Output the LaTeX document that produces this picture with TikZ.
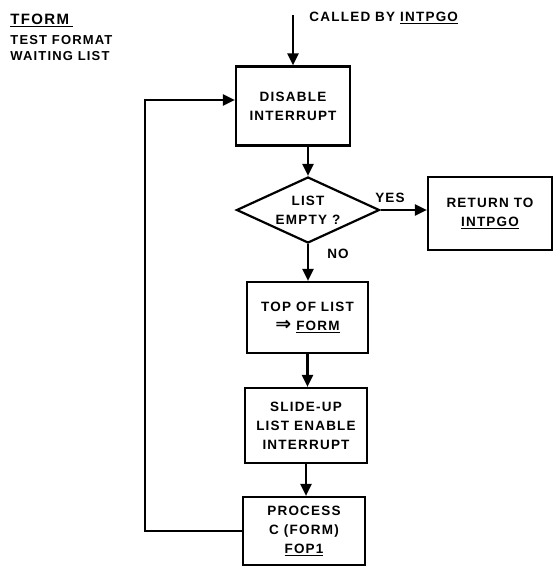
\documentclass[tikz,border=0pt]{standalone}
\usepackage{fontspec}
\setmainfont{Liberation Sans}[LetterSpace=9]
\newfontfamily\arrowfont{DejaVu Sans}
\usetikzlibrary{arrows.meta,shapes.geometric}

\begin{document}
\begin{tikzpicture}[x=1pt,y=-1pt,line width=2.2pt,>={Triangle[length=12pt,width=11pt]},
  lettering/.style={font=\bfseries\fontsize{13.5}{19}\selectfont},
  box/.style={draw,rectangle,lettering,align=center,inner sep=2pt},
  test/.style={draw,diamond,lettering,align=center,inner sep=0pt,aspect=2.2}]
\useasboundingbox (0,0) rectangle (554,573);
\node [lettering,anchor=north west,align=left,font=\bfseries\fontsize{13}{16}\selectfont] (title) at (6,10) {\underline{{\fontsize{15}{16}\selectfont TFORM}\,\,}\\[4pt]TEST FORMAT\\WAITING LIST};
\node [box,minimum width=114pt,minimum height=79pt] (disable) at (293,106) {DISABLE\\INTERRUPT};
\node [test,minimum width=143pt,minimum height=66pt] (empty) at (308,210) {LIST\\EMPTY ?};
\node [box,minimum width=124pt,minimum height=73pt] (return) at (490,213.5) {RETURN TO\\\underline{INTPGO}};
\node [box,minimum width=121pt,minimum height=71pt] (top) at (307.5,317.5) {TOP OF LIST\\{\arrowfont\bfseries\fontsize{19}{19}\selectfont ⇒}\hspace{5pt}\underline{FORM}};
\node [box,minimum width=122pt,minimum height=75pt] (slide) at (306,425.5) {SLIDE-UP\\LIST ENABLE\\INTERRUPT};
\node [box,minimum width=122pt,minimum height=68pt] (process) at (304,531) {PROCESS\\C (FORM)\\\underline{FOP1}};
\node [lettering,anchor=west] (caller) at (305,18) {CALLED BY \underline{INTPGO}};
\node [lettering] (yes) at (390,198) {YES};
\node [lettering] (no) at (338,254) {NO};
\coordinate (entry) at (293,15);
\coordinate (back) at (145,100);
\draw [->] (entry) -- (disable.north);
\draw [->] (disable.south -| empty.north) -- (empty.north);
\draw [->] (empty.east) -- (empty.east -| return.west);
\draw [->] (empty.south) -- (empty.south |- top.north);
\draw [->] (top.south) -- (top.south |- slide.north);
\draw [->] (slide.south) -- (slide.south |- process.north);
\draw [->] (process.west) -| (back) -- (back -| disable.west);
\end{tikzpicture}
\end{document}
